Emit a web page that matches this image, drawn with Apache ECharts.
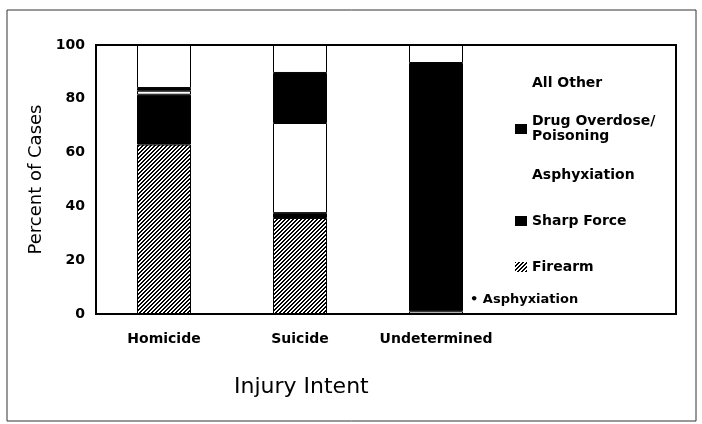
<!DOCTYPE html>
<html><head><meta charset="utf-8">
<script src="https://cdn.jsdelivr.net/npm/echarts@6/dist/echarts.min.js"></script>
<style>html,body{margin:0;padding:0;background:#fff}#c{width:702px;height:424px}</style>
</head><body><div id="c"></div>
<script>
const categories = ['Homicide', 'Suicide', 'Undetermined'];
const firearm = [63, 35.7, 0];
const sharpForce = [18.5, 1.8, 0];
const asphyxiation = [1.5, 33.5, 1];
const drugOverdose = [1, 18.6, 92.3];
const allOther = [16, 10.4, 6.7];
const yTicks = [0, 20, 40, 60, 80, 100];
const legendOrder = ['All Other', 'Drug Overdose/Poisoning', 'Asphyxiation', 'Sharp Force', 'Firearm'];

// hatch pattern (diagonal ///)
const pc = document.createElement('canvas');
pc.width = 4; pc.height = 4;
const px = pc.getContext('2d');
px.fillStyle = '#fff'; px.fillRect(0, 0, 4, 4);
px.fillStyle = '#000';
for (let y = 0; y < 4; y++) { px.fillRect((3 - y + 4) % 4, y, 1, 1); px.fillRect((4 - y + 4) % 4, y, 1, 1); }
const hatch = { image: pc, repeat: 'repeat' };

const FONT = 'DejaVu Sans';
const chart = echarts.init(document.getElementById('c'), null, { renderer: 'canvas' });
function mk(name, arr, color, extra) {
  return {
    name: name, type: 'bar', stack: 's', barWidth: 54,
    itemStyle: { color: color, borderColor: '#000', borderWidth: 1 },
    data: arr.map((v, i) => {
      const d = { value: v };
      if (extra && extra[i]) Object.assign(d, extra[i]);
      return d;
    })
  };
}
chart.setOption({
  animation: false,
  backgroundColor: '#fff',
  graphic: [
    { type: 'rect', shape: { x: 7, y: 10, width: 689, height: 411 }, style: { fill: 'none', stroke: '#333', lineWidth: 1 }, z: 100 },
    { type: 'rect', shape: { x: 96, y: 45, width: 580, height: 269 }, style: { fill: 'none', stroke: '#000', lineWidth: 2 }, z: 100 }
  ],
  title: { text: 'Injury Intent', left: 229, top: 371, textStyle: { fontFamily: FONT, fontSize: 22, fontWeight: 'normal', color: '#000' } },
  grid: { left: 96, right: 62, top: 45, bottom: 110 },
  xAxis: {
    type: 'category', data: categories.concat(['']),
    axisLine: { show: false }, axisTick: { show: false }, splitLine: { show: false },
    axisLabel: { interval: 0, margin: 18, fontFamily: FONT, fontSize: 14, fontWeight: 'bold', color: '#000' }
  },
  yAxis: {
    type: 'value', min: 0, max: 100, interval: 20,
    name: 'Percent of Cases', nameLocation: 'middle', nameGap: 44, nameRotate: 90,
    nameTextStyle: { fontFamily: FONT, fontSize: 18, color: '#000' },
    splitLine: { show: false }, axisTick: { show: false }, axisLine: { show: false },
    axisLabel: { margin: 11, fontFamily: FONT, fontSize: 14, fontWeight: 'bold', color: '#000', formatter: v => yTicks.includes(v) ? String(v) : '' }
  },
  legend: {
    orient: 'vertical', left: 510, top: 63, itemGap: 16, itemWidth: 12, itemHeight: 10,
    selectedMode: false,
    textStyle: { fontFamily: FONT, fontSize: 14, fontWeight: 'bold', color: '#000', lineHeight: 30 },
    formatter: n => n === 'Drug Overdose/Poisoning' ? 'Drug Overdose/\nPoisoning' : n,
    data: legendOrder.map(n => {
      const d = { name: n, icon: 'rect' };
      if (n === 'All Other' || n === 'Asphyxiation') d.itemStyle = { color: '#fff', borderWidth: 0 };
      else d.itemStyle = { borderWidth: 0 };
      if (n === 'Drug Overdose/Poisoning') d.textStyle = { lineHeight: 15 };
      return d;
    })
  },
  series: [
    mk('Firearm', firearm, hatch),
    mk('Sharp Force', sharpForce, '#000'),
    mk('Asphyxiation', asphyxiation, '#fff', [null, null, { label: { show: true, position: 'right', distance: 7, offset: [0, -13], formatter: '• Asphyxiation', fontFamily: FONT, fontSize: 13, fontWeight: 'bold', color: '#000' } }]),
    mk('Drug Overdose/Poisoning', drugOverdose, '#000'),
    mk('All Other', allOther, '#fff')
  ]
});
</script></body></html>
